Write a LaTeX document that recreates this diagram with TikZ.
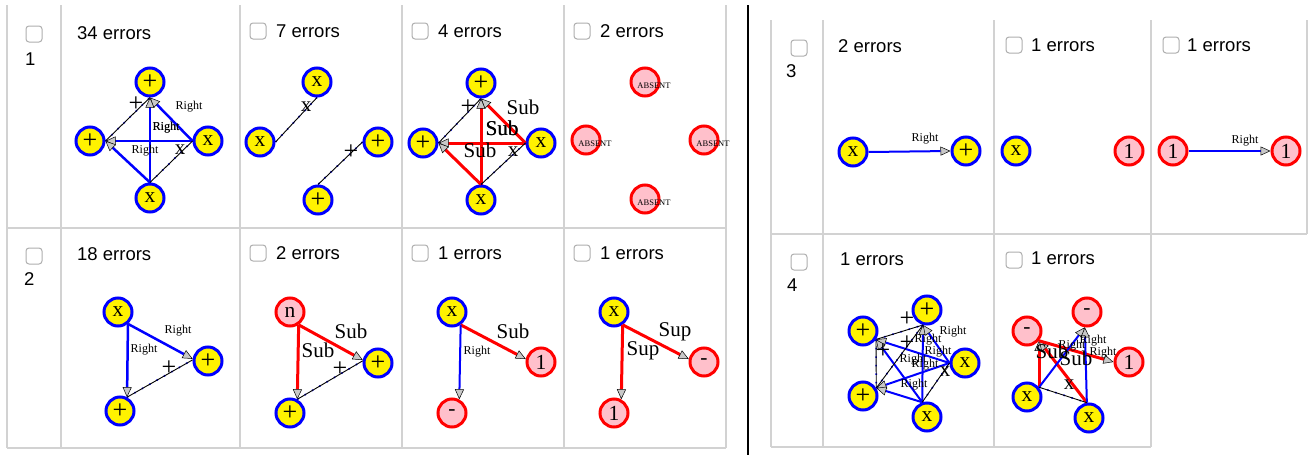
\documentclass[tikz,border=0pt]{standalone}
\usepackage{fontspec}
\setmainfont{Liberation Serif}
\newfontfamily\sansf{Liberation Sans}
\usetikzlibrary{arrows.meta}
\definecolor{gridc}{RGB}{210,210,210}
\definecolor{cbc}{RGB}{175,175,175}
\definecolor{pinkc}{RGB}{255,192,203}
\definecolor{tipc}{RGB}{200,200,200}
\newcommand\tfont{\sansf\fontsize{18.5}{20}\selectfont}
\newcommand\nfont{\fontsize{21.5}{23}\selectfont}
\newcommand\rfont{\fontsize{12}{13}\selectfont}
\newcommand\subfnt{\fontsize{21}{23}\selectfont}
\newcommand\kfont{\fontsize{21}{22}\selectfont}
\newcommand\afont{\fontsize{8.5}{9}\selectfont}
\newcommand\pls{{\fontsize{26}{26}\selectfont +}}
\tikzset{
 gridln/.style={draw=gridc, line width=2pt},
 ynode/.style={circle, draw=blue, fill=yellow, line width=3pt, minimum size=28pt, inner sep=0pt, font=\nfont},
 pnode/.style={circle, draw=red, fill=pinkc, line width=3pt, minimum size=28pt, inner sep=0pt, font=\nfont},
 bedge/.style={draw=blue, line width=2.5pt},
 bthin/.style={draw=blue, line width=2pt},
 redge/.style={draw=red, line width=3pt},
 kedge/.style={draw=black, line width=0.9pt, preaction={draw=blue, line width=1.6pt, dash pattern=on 1.5pt off 7pt}},
 arrw/.style={-{Triangle[length=10pt,width=9pt,fill=tipc,color=black,line width=0.5pt]}},
 lr/.style={font=\rfont, inner sep=0pt},
 ls/.style={font=\subfnt, inner sep=0pt},
 lk/.style={font=\kfont, inner sep=0pt},
 ttl/.style={font=\tfont, anchor=base west, inner sep=0pt},
 cbox/.style={draw=cbc, line width=1pt, rounded corners=3pt, fill=white},
 absent/.style={font=\afont, inner sep=0pt}
}
\begin{document}
\begin{tikzpicture}[x=1pt,y=-1pt]
\useasboundingbox (0,0) rectangle (1309,455);
\fill[white] (0,0) rectangle (1309,455);
% ---------- left table grid ----------
\foreach \gx in {7,61,240,402,564,726} \draw[gridln] (\gx,5) -- (\gx,448);
\draw[gridln] (7,228) -- (726,228);
\draw[gridln] (7,448) -- (726,448);
% separator
\draw[line width=1.3pt, black] (748,5) -- (748,455);
% ---------- right table grid ----------
\foreach \gx in {771,823,994,1151} \draw[gridln] (\gx,20) -- (\gx,447);
\draw[gridln] (1307,20) -- (1307,234);
\draw[gridln] (771,234) -- (1307,234);
\draw[gridln] (771,447) -- (1151,447);
% ---------- checkboxes ----------
\foreach \cx/\cy in {26/26, 26/248, 250/23, 412/23, 574/23, 250/245, 412/245, 574/245, 791/40, 1006/37, 1163/37, 791/254, 1006/252}
  \draw[cbox] (\cx,\cy) rectangle ++(16,16);
% ---------- titles ----------
\node[ttl] (r1) at (25,65) {1};
\node[ttl] (r2) at (24,285.7) {2};
\node[ttl] (r3) at (786,77.7) {3};
\node[ttl] (r4) at (787,291.7) {4};
\node[ttl] (t1) at (77,39) {34 errors};
\node[ttl] (t2) at (276,37.3) {7 errors};
\node[ttl] (t3) at (438,37.3) {4 errors};
\node[ttl] (t4) at (600,37.3) {2 errors};
\node[ttl] (t5) at (77,260) {18 errors};
\node[ttl] (t6) at (276,259) {2 errors};
\node[ttl] (t7) at (438,259) {1 errors};
\node[ttl] (t8) at (600,259) {1 errors};
\node[ttl] (t9) at (838,52.3) {2 errors};
\node[ttl] (t10) at (1031,51.7) {1 errors};
\node[ttl] (t11) at (1187,51.7) {1 errors};
\node[ttl] (t12) at (840,265) {1 errors};
\node[ttl] (t13) at (1031,264) {1 errors};
% ---------- cell 1 : 34 errors ----------
\node[ynode] (A) at (150,82) {\pls};
\node[ynode] (B) at (90,141) {\pls};
\node[ynode] (C) at (208,141) {x};
\node[ynode] (D) at (150,198) {x};
\draw[bedge,arrw] (D.north) -- (A.south);
\draw[bedge,arrw] (C.west) -- (B.east);
\draw[bedge,arrw] (C.west) -- (A.south);
\draw[bedge,arrw] (D.north) -- (B.east);
\draw[kedge] (B.east) -- (A.south);
\draw[kedge] (D.north) -- (C.west);
\node[lr] (a1) at (166,128) {Right};
\node[lr] (a2) at (166.3,128) {Right};
\node[lr] (a3) at (189,107) {Right};
\node[lr] (a4) at (145,151) {Right};
\node[lk] (a5) at (136,104) {\pls};
\node[lk] (a6) at (180,150) {x};
% ---------- cell 2 : 7 errors ----------
\node[ynode] (E) at (317,82) {x};
\node[ynode] (F) at (260,142) {x};
\node[ynode] (G) at (378,142) {\pls};
\node[ynode] (H) at (318,200) {\pls};
\draw[kedge] (F.east) -- (E.south);
\draw[kedge] (G.west) -- (H.north);
\node[lk] (b1) at (306,107) {x};
\node[lk] (b2) at (351,152) {\pls};
% ---------- cell 3 : 4 errors ----------
\node[ynode] (I) at (481,83) {\pls};
\node[ynode] (J) at (423,143) {\pls};
\node[ynode] (K) at (541,143) {x};
\node[ynode] (L) at (481,200) {x};
\draw[redge,arrw] (L.north) -- (I.south);
\draw[redge,arrw] (K.west) -- (J.east);
\draw[redge,arrw] (K.west) -- (I.south);
\draw[redge,arrw] (L.north) -- (J.east);
\draw[kedge] (J.east) -- (I.south);
\draw[kedge] (L.north) -- (K.west);
\node[ls] (c1) at (523,107) {Sub};
\node[ls] (c2) at (502,128) {Sub};
\node[ls] (c3) at (502.3,128) {Sub};
\node[ls] (c4) at (480,150) {Sub};
\node[lk] (c5) at (468,107) {\pls};
\node[lk] (c6) at (513,152) {x};
% ---------- cell 4 : 2 errors ----------
\foreach \nm/\px/\py in {M/645/82, N/586/140, O/704/140, P/645/199}{
  \node[pnode] (\nm) at (\px,\py) {};
  \node[absent] (\nm t) at ([xshift=9pt,yshift=-4pt]\nm.center) {ABSENT};
}
% ---------- cell 5 : 18 errors ----------
\node[ynode] (Q) at (118,312) {x};
\node[ynode] (R) at (208,361) {\pls};
\node[ynode] (S) at (120,411) {\pls};
\draw[bedge,arrw] (Q.-50) -- (R.172);
\draw[bedge,arrw] (Q.-50) -- (S.63);
\draw[kedge] (S.63) -- (R.176);
\node[lr] (d1) at (178,331) {Right};
\node[lr] (d2) at (144,350) {Right};
\node[lk] (d3) at (169,368) {\pls};
% ---------- cell 6 : 2 errors ----------
\node[pnode] (T) at (290,312) {n};
\node[ynode] (U) at (378,363) {\pls};
\node[ynode] (V) at (290,413) {\pls};
\draw[redge,arrw] (T.-56) -- (U.169);
\draw[redge,arrw] (T.-56) -- (V.62);
\draw[kedge] (V.62) -- (U.172);
\node[ls] (e1) at (351,331) {Sub};
\node[ls] (e2) at (318,350) {Sub};
\node[lk] (e3) at (340,369) {\pls};
% ---------- cell 7 : 1 errors ----------
\node[ynode] (W) at (452,312) {x};
\node[pnode] (X1) at (541,362) {1};
\node[pnode] (Y) at (452,413) {-};
\draw[redge,arrw] (W.-56) -- (X1.169);
\draw[bthin,arrw] (W.-56) -- (Y.62);
\node[ls] (f1) at (513,331) {Sub};
\node[lr] (f2) at (477,352) {Right};
% ---------- cell 8 : 1 errors ----------
\node[ynode] (Z) at (614,312) {x};
\node[pnode] (AA) at (704,362) {-};
\node[pnode] (AB) at (614,413) {1};
\draw[redge,arrw] (Z.-56) -- (AA.169);
\draw[redge,arrw] (Z.-56) -- (AB.62);
\node[ls] (g1) at (675,332) {Sup};
\node[ls] (g2) at (643,351) {Sup};
% ---------- cell 9 ----------
\node[ynode] (AC) at (853,152) {x};
\node[ynode] (AD) at (966,151) {\pls};
\draw[bthin,arrw] (AC.east) -- (AD.west);
\node[lr] (h1) at (925,139) {Right};
% ---------- cell 10 ----------
\node[ynode] (AE) at (1016,151) {x};
\node[pnode] (AF) at (1129,151) {1};
% ---------- cell 11 ----------
\node[pnode] (AG) at (1173,151) {1};
\node[pnode] (AH) at (1286,151) {1};
\draw[bthin,arrw] (AG.east) -- (AH.west);
\node[lr] (i1) at (1245,141) {Right};
% ---------- cell 12 ----------
\node[ynode] (PT) at (927,310) {\pls};
\node[ynode] (PL) at (863,331) {\pls};
\node[ynode] (XR) at (965,363) {x};
\node[ynode] (PB) at (863,396) {\pls};
\node[ynode] (XB) at (927,417) {x};
\draw[bthin,arrw] (XB.108) -- (PT.-105);
\draw[bthin,arrw] (XR.west) -- (PT.-105);
\draw[bthin,arrw] (XR.west) -- (PL.-33);
\draw[bthin,arrw] (XR.west) -- (PB.31);
\draw[bthin,arrw] (XB.108) -- (PL.-33);
\draw[bthin,arrw] (XB.108) -- (PB.31);
\draw[kedge] (PL.-33) -- (PT.-105);
\draw[kedge] (PB.31) -- (PT.-105);
\draw[kedge] (PL.-33) -- (PB.31);
\draw[kedge] (XB.108) -- (XR.west);
\node[lr] (j1) at (928,340) {Right};
\node[lr] (j2) at (938,352) {Right};
\node[lr] (j3) at (953,332) {Right};
\node[lr] (j4) at (913,360) {Right};
\node[lr] (j5) at (925,365) {Right};
\node[lr] (j6) at (914,385) {Right};
\node[lk] (j7) at (907,319) {\pls};
\node[lk] (j8) at (907,343) {\pls};
\node[lk] (j9) at (883,351) {\pls};
\node[lk] (j10) at (945,372) {x};
% ---------- cell 13 ----------
\node[pnode] (MT) at (1087,312) {-};
\node[pnode] (ML) at (1027,331) {-};
\node[pnode] (R1) at (1129,362) {1};
\node[ynode] (XL) at (1027,397) {x};
\node[ynode] (XB2) at (1089,418) {x};
\draw[redge,arrw] (XL.39) -- (ML.-39);
\draw[redge,arrw] (XB2.98) -- (ML.-39);
\draw[redge,arrw] (ML.-39) -- (R1.west);
\draw[bthin,arrw] (XL.39) -- (MT.-98);
\draw[bthin,arrw] (XB2.98) -- (MT.-98);
\draw[kedge] (XL.39) -- (XB2.98);
\node[ls] (k1) at (1052,351) {Sub};
\node[ls] (k2) at (1076,358) {Sub};
\node[lr] (k3) at (1093,341) {Right};
\node[lr] (k4) at (1072,346) {Right};
\node[lr] (k5) at (1103,353) {Right};
\node[lk] (k6) at (1069,385) {x};
\end{tikzpicture}
\end{document}
